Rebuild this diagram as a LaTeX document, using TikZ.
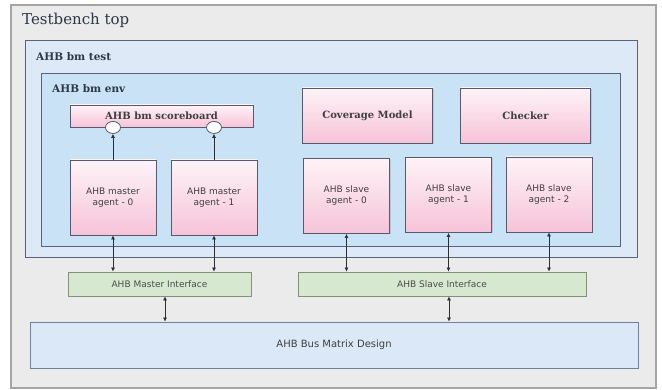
\documentclass[tikz,border=0pt]{standalone}
\usepackage{fontspec}
\setmainfont{DejaVu Serif}
\newfontfamily\labelsans{DejaVu Sans}
\usetikzlibrary{arrows.meta,shadows,calc,shapes.geometric}

\definecolor{tbfill}{HTML}{EBEBEB}
\definecolor{tbline}{HTML}{A4A4A4}
\definecolor{testfill}{HTML}{DDE9F7}
\definecolor{envfill}{HTML}{CAE2F6}
\definecolor{frameline}{HTML}{55657A}
\definecolor{pinktop}{HTML}{FEF3F7}
\definecolor{pinkbot}{HTML}{F6C3D8}
\definecolor{pinkline}{HTML}{555A6C}
\definecolor{ifill}{HTML}{D6E9D0}
\definecolor{iline}{HTML}{84927C}
\definecolor{busfill}{HTML}{DAE8F8}
\definecolor{busline}{HTML}{708096}
\definecolor{titletext}{HTML}{2C3846}
\definecolor{wire}{HTML}{2A2E36}

\tikzset{
  frame/.style={draw=frameline, line width=1pt},
  title/.style={anchor=base west, inner sep=0pt, text=titletext},
  pinkbox/.style={draw=pinkline, line width=0.9pt, top color=pinktop, bottom color=pinkbot,
    drop shadow={opacity=0.25, shadow xshift=1pt, shadow yshift=-1pt}, inner sep=0pt},
  agentbox/.style={pinkbox, minimum width=86pt, minimum height=75pt, align=center,
    font=\labelsans\fontsize{9}{11}\selectfont, text=black!75},
  bigpink/.style={pinkbox, minimum width=130pt, minimum height=55pt,
    font=\bfseries\fontsize{10}{12}\selectfont, text=black!75},
  ifbox/.style={draw=iline, line width=0.9pt, fill=ifill, minimum height=24pt, inner sep=0pt,
    drop shadow={opacity=0.2, shadow xshift=1pt, shadow yshift=-1pt},
    font=\labelsans\fontsize{9}{10}\selectfont, text=black!70},
  port/.style={ellipse, draw=pinkline, line width=0.8pt, fill=white, minimum width=15pt,
    minimum height=12pt, inner sep=0pt},
  link/.style={draw=wire, line width=0.6pt, {Latex[length=4pt,width=4pt]}-{Latex[length=4pt,width=4pt]}},
  uplink/.style={draw=wire, line width=0.6pt, -{Latex[length=4pt,width=4pt]}},
}

\begin{document}
\begin{tikzpicture}[x=1pt, y=-1pt]
\useasboundingbox (0,0) rectangle (662,390);

% outer testbench
\draw[draw=tbline, line width=1.2pt, fill=tbfill] (11,5) rectangle (656,388);
\node[title, font=\fontsize{15}{17}\selectfont] (tbtitle) at (22,25) {Testbench top};

% test and environment frames
\draw[frame, fill=testfill] (25,41) rectangle (637,258);
\node[title, font=\bfseries\fontsize{10.5}{12}\selectfont] (testtitle) at (36,61) {AHB bm test};
\draw[frame, fill=envfill] (41,74) rectangle (620,247);
\node[title, font=\bfseries\fontsize{10.5}{12}\selectfont] (envtitle) at (52,93) {AHB bm env};

% scoreboard, coverage and checker
\node[pinkbox, minimum width=183pt, minimum height=22pt, font=\bfseries\fontsize{10}{12}\selectfont,
  text=black!75] (sb) at (161.5,116) {AHB bm scoreboard};
\node[bigpink] (cov) at (367.5,115.5) {Coverage Model};
\node[bigpink] (chk) at (525.5,115.5) {Checker};

% agents
\node[agentbox] (m0) at (113,197.5) {AHB master\\agent - 0};
\node[agentbox] (m1) at (214,197.5) {AHB master\\agent - 1};
\node[agentbox] (s0) at (346.5,196) {AHB slave\\agent - 0};
\node[agentbox] (s1) at (448.5,195) {AHB slave\\agent - 1};
\node[agentbox] (s2) at (549,194.5) {AHB slave\\agent - 2};

% scoreboard analysis ports
\node[port] (p0) at (m0.north |- sb.south) {};
\node[port] (p1) at (m1.north |- sb.south) {};
\draw[uplink] (m0.north) -- (p0.south);
\draw[uplink] (m1.north) -- (p1.south);

% interfaces
\node[ifbox, minimum width=183pt] (mif) at (159.5,284) {AHB Master Interface};
\node[ifbox, minimum width=288pt] (sif) at (442,284) {AHB Slave Interface};

% design under test
\node[draw=busline, line width=0.9pt, fill=busfill, minimum width=608pt, minimum height=46pt,
  inner sep=0pt, font=\labelsans\fontsize{10}{11}\selectfont, text=black!75,
  drop shadow={opacity=0.2, shadow xshift=1pt, shadow yshift=-1pt}] (bus) at (334,345) {AHB Bus Matrix Design};

% agent to interface links
\draw[link] (m0.south) -- (m0.south |- mif.north);
\draw[link] (m1.south) -- (m1.south |- mif.north);
\draw[link] (s0.south) -- (s0.south |- sif.north);
\draw[link] (s1.south) -- (s1.south |- sif.north);
\draw[link] (s2.south) -- (s2.south |- sif.north);

% interface to design links
\draw[link] ([xshift=5.5pt]mif.south) -- ([xshift=5.5pt]mif.south |- bus.north);
\draw[link] ([xshift=7pt]sif.south) -- ([xshift=7pt]sif.south |- bus.north);
\end{tikzpicture}
\end{document}
